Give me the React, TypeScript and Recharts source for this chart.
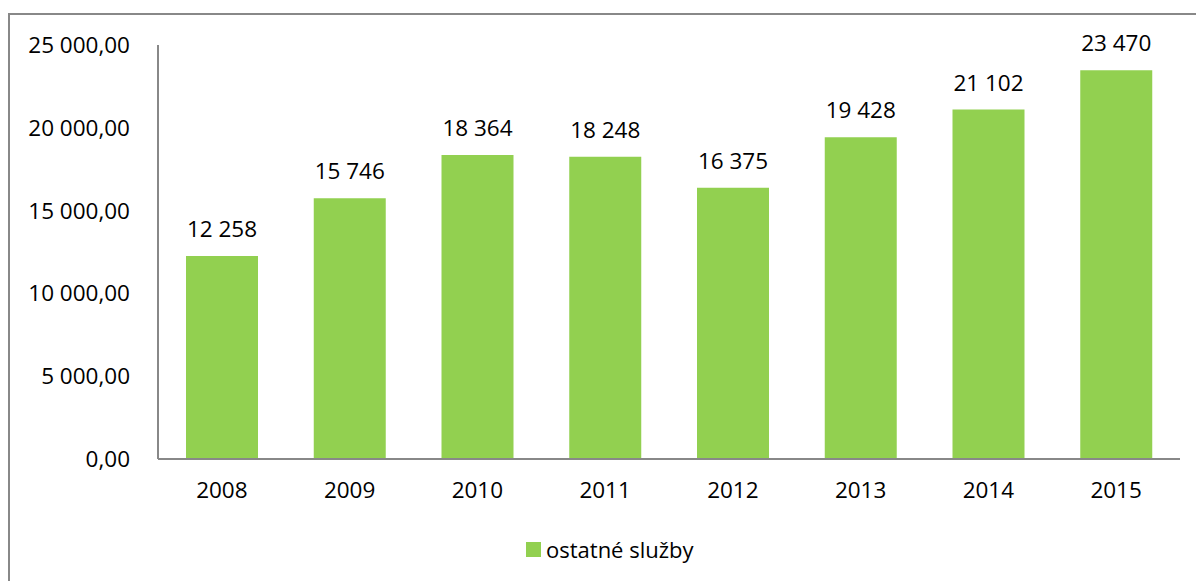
import React from 'react';
import { ComposedChart, Bar, XAxis, YAxis, LabelList, Legend } from 'recharts';

const categories = ['2008', '2009', '2010', '2011', '2012', '2013', '2014', '2015'];
const values = [12258, 15746, 18364, 18248, 16375, 19428, 21102, 23470];
const yTicks = [0, 5000, 10000, 15000, 20000, 25000];
const seriesName = 'ostatné služby';

const data = categories.map((c, i) => ({ year: c, value: values[i] }));

const FONT = '"Open Sans", sans-serif';
const GREEN = '#92D050';

const groupThousands = (n: number) => {
  const s = Math.round(Math.abs(n)).toString();
  return s.replace(/\B(?=(\d{3})+(?!\d))/g, ' ');
};
const fmtTick = (v: number) => `${groupThousands(v)},00`;
const fmtLabel = (v: any) => groupThousands(Number(v));

const LegendContent = () => (
  <div style={{ display: 'flex', alignItems: 'center', fontFamily: FONT, fontSize: 22, color: '#000' }}>
    <span style={{ display: 'inline-block', width: 15, height: 15, background: GREEN, marginRight: 5 }} />
    <span>{seriesName}</span>
  </div>
);

export default function App() {
  return (
    <div style={{ position: 'absolute', left: 0, top: 0, width: 1196, height: 581, background: '#fff', overflow: 'hidden' }}>
      <div
        style={{
          position: 'absolute',
          left: 8,
          top: 13,
          width: 1300,
          height: 700,
          borderLeft: '2px solid #888',
          borderTop: '2px solid #888',
          boxSizing: 'border-box',
        }}
      />
      <div style={{ position: 'absolute', left: 0, top: 0 }}>
        <ComposedChart
          width={1196}
          height={581}
          data={data}
          margin={{ top: 45, right: 16, bottom: 32, left: 0 }}
        >
          <XAxis
            dataKey="year"
            axisLine={{ stroke: '#888', strokeWidth: 2 }}
            tickLine={false}
            tickSize={0}
            tickMargin={23}
            height={60}
            tick={{ fill: '#000', fontSize: 22.5, fontFamily: FONT }}
          />
          <YAxis
            domain={[0, 25000]}
            ticks={yTicks}
            tickFormatter={fmtTick}
            axisLine={{ stroke: '#888', strokeWidth: 2 }}
            tickLine={false}
            tickSize={0}
            tickMargin={28}
            width={158}
            interval={0}
            tick={{ fill: '#000', fontSize: 22.5, fontFamily: FONT }}
          />
          <Legend
            verticalAlign="bottom"
            height={30}
            content={<LegendContent />}
            wrapperStyle={{ left: 526, top: 534, width: 300, height: 30 }}
          />
          <Bar dataKey="value" name={seriesName} fill={GREEN} barSize={72} isAnimationActive={false}>
            <LabelList
              dataKey="value"
              position="top"
              offset={19}
              formatter={fmtLabel}
              style={{ fill: '#000', fontSize: 22.5, fontFamily: FONT }}
            />
          </Bar>
        </ComposedChart>
      </div>
    </div>
  );
}
